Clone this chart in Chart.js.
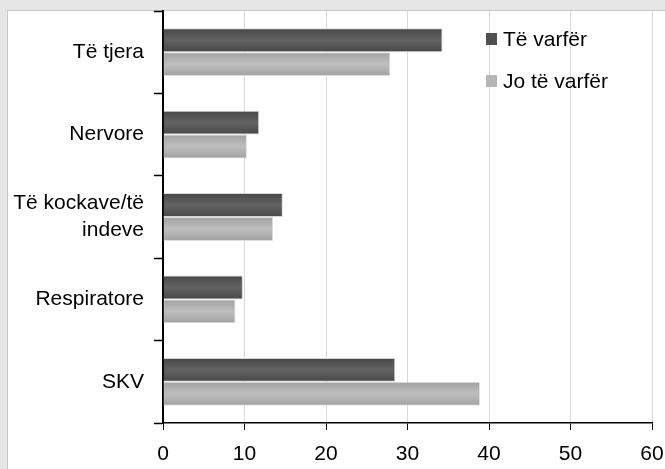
<!DOCTYPE html>
<html>
<head>
<meta charset="utf-8">
<script src="https://cdn.jsdelivr.net/npm/chart.js@4.4.1/dist/chart.umd.min.js"></script>
<style>
  body { margin: 0; background: #e6e6e6; }
  #wrap { position: relative; width: 665px; height: 469px; }
</style>
</head>
<body>
<div id="wrap"><canvas id="chart-area"></canvas></div>
<script>
var categories = ['Të tjera', 'Nervore', ['Të kockave/të', 'indeve'], 'Respiratore', 'SKV'];
var poorValues = [34.3, 11.8, 14.7, 9.8, 28.5];
var nonPoorValues = [27.9, 10.3, 13.5, 8.9, 38.9];
var seriesNames = ['Të varfër', 'Jo të varfër'];
var xTicks = [0, 10, 20, 30, 40, 50, 60];

var font = { family: 'Liberation Sans, Arial, sans-serif', size: 21, lineHeight: 1.3 };

// grey frame with the white panel inside
var panel = {
    id: 'panel',
    beforeDraw: function(chart) {
        var c = chart.ctx;
        c.save();
        c.fillStyle = '#e6e6e6';
        c.fillRect(0, 0, chart.width, chart.height);
        c.fillStyle = '#ffffff';
        c.fillRect(7, 10, chart.width - 7, chart.height - 10);
        c.strokeStyle = '#c8c8c8';
        c.lineWidth = 1;
        c.strokeRect(7.5, 10.5, chart.width, chart.height);
        c.restore();
    }
};

// soft shading on each bar
var shade = {
    id: 'shade',
    afterDatasetsDraw: function(chart) {
        var c = chart.ctx;
        chart.data.datasets.forEach(function(ds, i) {
            chart.getDatasetMeta(i).data.forEach(function(bar) {
                var p = bar.getProps(['x', 'y', 'base', 'height'], true);
                var top = p.y - p.height / 2;
                var g = c.createLinearGradient(0, top, 0, top + p.height);
                g.addColorStop(0, 'rgba(0,0,0,0.12)');
                g.addColorStop(0.5, 'rgba(255,255,255,0.10)');
                g.addColorStop(1, 'rgba(0,0,0,0.12)');
                c.save();
                c.fillStyle = g;
                c.fillRect(p.base + 1, top + 1, p.x - p.base - 2, p.height - 2);
                c.restore();
            });
        });
    }
};

// legend drawn at the spot used in the picture
var sideLegend = {
    id: 'sideLegend',
    afterDraw: function(chart) {
        var c = chart.ctx;
        var rows = [39, 81];
        c.save();
        c.font = '21px "Liberation Sans", Arial, sans-serif';
        c.textBaseline = 'middle';
        chart.data.datasets.forEach(function(ds, i) {
            c.fillStyle = ds.backgroundColor;
            c.fillRect(486, rows[i] - 6, 11, 12);
            c.fillStyle = '#000';
            c.fillText(ds.label, 503, rows[i] + 1);
        });
        c.restore();
    }
};

var config = {
    type: 'bar',
    data: {
        labels: categories,
        datasets: [{
            label: seriesNames[0],
            data: poorValues,
            backgroundColor: '#505050',
            borderColor: '#d6d6d6',
            borderWidth: 1,
            barPercentage: 1,
            categoryPercentage: 0.58
        }, {
            label: seriesNames[1],
            data: nonPoorValues,
            backgroundColor: '#b6b6b6',
            borderColor: '#dedede',
            borderWidth: 1,
            barPercentage: 1,
            categoryPercentage: 0.58
        }]
    },
    options: {
        indexAxis: 'y',
        responsive: true,
        maintainAspectRatio: false,
        animation: false,
        layout: { padding: { top: 11, right: 13, left: 0, bottom: 0 } },
        plugins: { legend: { display: false }, tooltip: { enabled: false } },
        scales: {
            y: {
                afterFit: function(s) { s.width = 163; s.paddingTop = 0; s.paddingBottom = 0; },
                grid: { offset: true, drawOnChartArea: false, tickLength: 9, tickColor: '#000', tickWidth: 1.5 },
                border: { color: '#000', width: 2 },
                ticks: { font: font, color: '#000', padding: 10 }
            },
            x: {
                min: 0,
                max: 60,
                afterFit: function(s) { s.height = 46; s.paddingLeft = 0; s.paddingRight = 0; },
                afterBuildTicks: function(s) { s.ticks = xTicks.map(function(v) { return { value: v }; }); },
                grid: { color: '#d9d9d9', tickColor: '#000', tickLength: 7 },
                border: { color: '#000', width: 1.5 },
                ticks: { font: font, color: '#000', padding: 11 }
            }
        }
    },
    plugins: [panel, shade, sideLegend]
};

window.onload = function() {
    var ctx = document.getElementById('chart-area').getContext('2d');
    new Chart(ctx, config);
};
</script>
</body>
</html>
